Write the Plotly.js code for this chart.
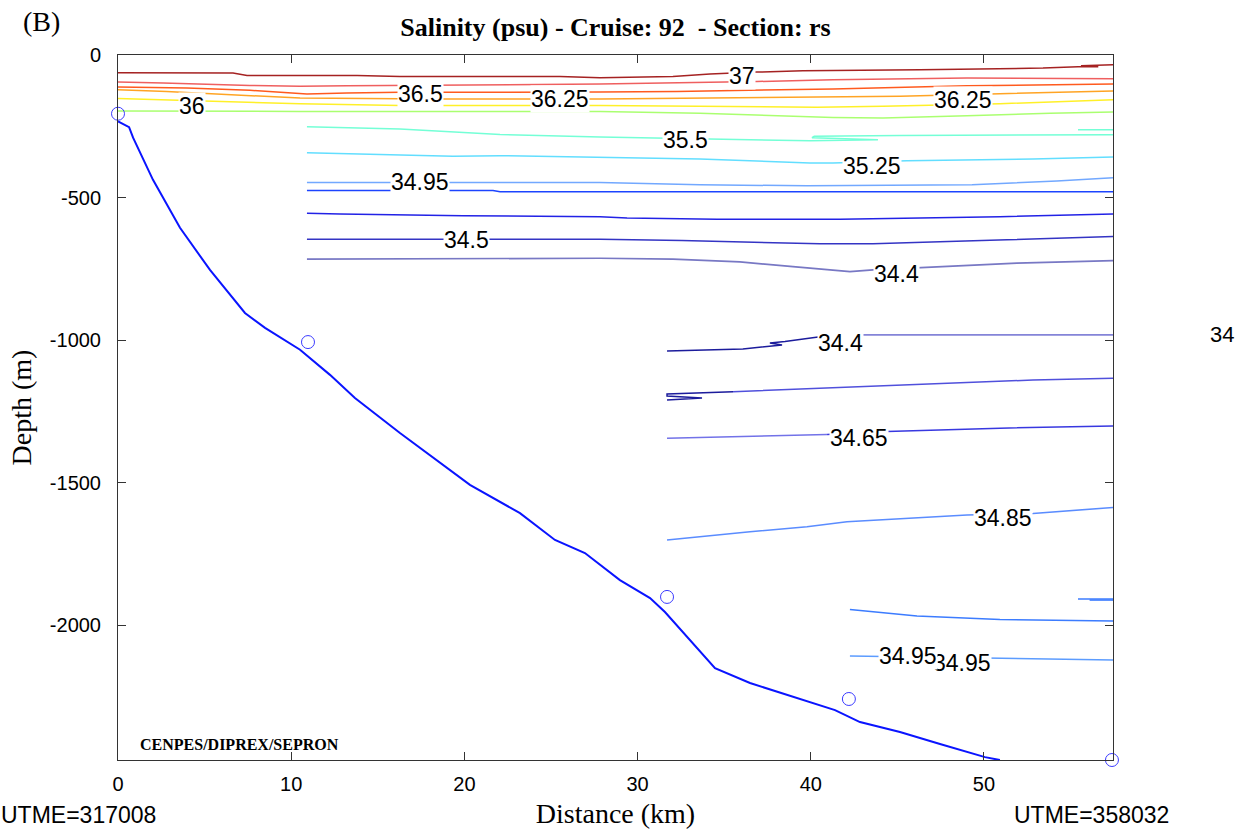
<!DOCTYPE html>
<html>
<head>
<meta charset="utf-8">
<script src="https://cdn.plot.ly/plotly-3.0.1.min.js"></script>
<style>html,body{margin:0;padding:0;background:#fff;}#chart{width:1255px;height:829px;}</style>
</head>
<body>
<div id="chart"></div>
<script>
// ---- Data (distance km, depth m) ----
const xTicks = [0, 10, 20, 30, 40, 50];
const yTicks = [-2000, -1500, -1000, -500, 0];
const yTickText = ['-2000', '-1500', '-1000', '-500', '0'];

const stationX = [0, 10.97, 31.7, 42.2, 57.39];
const stationY = [-206, -1007, -1901, -2259, -2473];

const bottomX = [0, 0.64, 0.87, 2.02, 3.58, 5.31, 7.33, 8.49, 10.51, 12.24, 13.68, 16.28, 20.32, 23.21, 25.23, 26.96, 28.98, 30.72, 31.58, 33.03, 34.47, 36.49, 39.38, 41.4, 42.84, 45.15, 47.46, 50.06, 50.92];
const bottomY = [-233, -253, -290, -438, -606, -754, -905, -957, -1034, -1122, -1203, -1326, -1508, -1607, -1701, -1747, -1842, -1905, -1954, -2052, -2151, -2203, -2259, -2298, -2340, -2375, -2417, -2463, -2473];

const c370X = [0, 6.64, 7.45, 13.8, 16.28, 25.52, 27.83, 32.04, 34.18, 35.33, 36.89, 39.55, 46.3, 53.41, 55.43, 56.6, 55.6, 57.45];
const c370Y = [-62, -63, -72, -72, -75, -75, -80, -75, -67, -63, -60, -55, -52, -46, -41, -41, -38, -34];
const c3675X = [0, 2.6, 7.62, 10.51, 13.22, 27.83, 36.89, 41.28, 49.02, 57.45];
const c3675Y = [-95, -98, -107, -110, -108, -102, -93, -87, -81, -83];
const c365X = [0, 3.98, 7.62, 10.91, 13.22, 16.28, 27.83, 32.27, 41.28, 49.02, 57.45];
const c365Y = [-112, -116, -124, -137, -133, -131, -130, -128, -119, -108, -102];
const c3625X = [0, 2.81, 10.51, 18.19, 27.83, 37.45, 45.15, 50.92, 57.45];
const c3625Y = [-122, -128, -151, -154, -154, -149, -145, -136, -126];
const c360X = [0, 3.58, 10.51, 16.28, 27.83, 40.36, 44.17, 50.92, 57.45];
const c360Y = [-153, -159, -171, -177, -177, -183, -180, -171, -157];
const c3575X = [0, 10.51, 27.83, 33.6, 41.28, 44.17, 49.02, 53.81, 57.45];
const c3575Y = [-196, -198, -198, -204, -219, -221, -213, -204, -200];
const c355X = [10.91, 13.8, 16.28, 19.17, 22.06, 27.83, 29.73, 35.51, 39.95, 43.88, 40.07, 40.2, 45.15, 57.45, null, 55.43, 57.45];
const c355Y = [-252, -255, -260, -269, -279, -288, -290, -297, -301, -297, -290, -285, -282, -280, null, -262, -262];
const c3525X = [10.91, 13.22, 14.95, 19.34, 22.06, 27.83, 33.6, 39.95, 41.28, 45.55, 52.83, 57.45];
const c3525Y = [-343, -346, -350, -355, -353, -359, -365, -379, -379, -371, -365, -358];
const c3495X = [10.91, 27.83, 33.6, 39.78, 49.31, 52.54, 54.21, 55.95, 57.45];
const c3495Y = [-447, -447, -455, -459, -455, -448, -442, -436, -431];
const cB1X = [10.91, 21.65, 22.06, 57.45];
const cB1Y = [-475, -475, -480, -480];
const cB2X = [10.91, 12.82, 19.92, 27.83, 29.39, 34.58, 41.69, 46.48, 50.92, 57.45];
const cB2Y = [-555, -558, -564, -567, -572, -576, -576, -572, -567, -558];
const c345X = [10.91, 27.83, 32.56, 40.53, 43.59, 48.04, 51.33, 57.45];
const c345Y = [-646, -646, -651, -662, -662, -653, -648, -637];
const c344X = [10.91, 27.83, 32.04, 35.91, 38.97, 42.26, 43.59, 46.3, 51.9, 57.45];
const c344Y = [-716, -713, -716, -726, -742, -760, -754, -746, -730, -721];

const d344aX = [31.7, 36.08, 38.34, 37.64, 38.51, 40.53];
const d344aY = [-1038, -1031, -1017, -1010, -1005, -988];
const d344bX = [40.53, 43.01, 57.45];
const d344bY = [-988, -982, -982];
const d2aX = [31.7, 33.72, 31.7, 31.7, 35.51];
const d2aY = [-1210, -1203, -1196, -1189, -1181];
const d2bX = [35.51, 40.36, 47.06, 52.83, 57.45];
const d2bY = [-1181, -1169, -1154, -1140, -1134];
const d3465aX = [31.7, 35.51, 40.94];
const d3465aY = [-1344, -1339, -1331];
const d3465bX = [40.94, 44.4, 50.92, 57.45];
const d3465bY = [-1331, -1321, -1309, -1301];
const d3485X = [31.7, 36.49, 39.78, 42.09, 49.02, 52.83, 57.45];
const d3485Y = [-1701, -1672, -1655, -1637, -1614, -1608, -1587];
const d349X = [42.26, 44.4, 46.13, 50.92, 57.45, null, 55.43, 57.45, null, 56.1, 57.45];
const d349Y = [-1945, -1959, -1968, -1980, -1985, null, -1908, -1908, null, -1912, -1912];
const d3495X = [42.26, 50.23, 55.37, 57.45];
const d3495Y = [-2108, -2115, -2122, -2122];

const labelText = ['37', '36.5', '36.25', '36.25', '36', '35.5', '35.25', '34.95', '34.5', '34.4', '34.4', '34.65', '34.85', '34.95', '34.95'];
const labelX = [36.03, 17.44, 25.52, 48.79, 4.26, 32.74, 43.52, 17.44, 20.13, 44.96, 41.69, 42.8, 51.08, 48.71, 45.63];
const labelY = [-73, -136, -155, -157, -178, -297, -391, -447, -648, -768, -1009, -1344, -1625, -2132, -2108];

// ---- Traces ----
function line(x, y, color, w) {
  return {x: x, y: y, type: 'scatter', mode: 'lines', line: {color: color, width: w || 1.5}, hoverinfo: 'skip', showlegend: false, connectgaps: false};
}
const traces = [
  line(c370X, c370Y, '#a52222'),
  line(c3675X, c3675Y, '#ef5f5f'),
  line(c365X, c365Y, '#ff5a1e'),
  line(c3625X, c3625Y, '#ffa424'),
  line(c360X, c360Y, '#fff028'),
  line(c3575X, c3575Y, '#aaff70'),
  line(c355X, c355Y, '#74ffd6'),
  line(c3525X, c3525Y, '#62deff'),
  line(c3495X, c3495Y, '#72a8ff'),
  line(cB1X, cB1Y, '#1c44ff'),
  line(cB2X, cB2Y, '#2222e6'),
  line(c345X, c345Y, '#3434c4'),
  line(c344X, c344Y, '#7878c4', 1.7),
  line(d344aX, d344aY, '#1c1c9c'),
  line(d344bX, d344bY, '#8484d8', 1.7),
  line(d2aX, d2aY, '#1c1c9c'),
  line(d2bX, d2bY, '#5050dc'),
  line(d3465aX, d3465aY, '#7272e8'),
  line(d3465bX, d3465bY, '#3838e0'),
  line(d3485X, d3485Y, '#5a8cff'),
  line(d349X, d349Y, '#3c7cff'),
  line(d3495X, d3495Y, '#5c9cff'),
  line(bottomX, bottomY, '#0a14ff', 2),
  {x: stationX, y: stationY, type: 'scatter', mode: 'markers', cliponaxis: false,
   marker: {symbol: 'circle-open', size: 13, color: '#3a3aff', line: {width: 1, color: '#3a3aff'}},
   hoverinfo: 'skip', showlegend: false}
];

const annotations = labelText.map((t, i) => ({
  x: labelX[i], y: labelY[i], xref: 'x', yref: 'y', text: t, showarrow: false,
  font: {family: 'Liberation Sans, Arial, sans-serif', size: 23, color: '#000'},
  bgcolor: '#ffffff', borderpad: 0, xanchor: 'center', yanchor: 'middle'
}));
annotations.push(
  {xref: 'paper', yref: 'paper', x: 1.1096, y: 0.604, text: '34', showarrow: false,
   font: {family: 'Liberation Sans, Arial, sans-serif', size: 22, color: '#000'}, xanchor: 'center', yanchor: 'middle'},
  {xref: 'paper', yref: 'paper', x: -0.0402, y: -0.078, text: 'UTME=317008', showarrow: false,
   font: {family: 'Liberation Sans, Arial, sans-serif', size: 23, color: '#000'}, xanchor: 'center', yanchor: 'middle'},
  {xref: 'paper', yref: 'paper', x: 0.978, y: -0.078, text: 'UTME=358032', showarrow: false,
   font: {family: 'Liberation Sans, Arial, sans-serif', size: 23, color: '#000'}, xanchor: 'center', yanchor: 'middle'},
  {xref: 'paper', yref: 'paper', x: -0.0764, y: 1.047, text: '(B)', showarrow: false,
   font: {family: 'Liberation Serif, Times New Roman, serif', size: 28, color: '#000'}, xanchor: 'center', yanchor: 'middle'},
  {xref: 'paper', yref: 'paper', x: 0.1226, y: 0.0213, text: '<b>CENPES/DIPREX/SEPRON</b>', showarrow: false,
   font: {family: 'Liberation Serif, Times New Roman, serif', size: 16, color: '#000'}, xanchor: 'center', yanchor: 'middle'}
);

const tickFont = {family: 'Liberation Sans, Arial, sans-serif', size: 20, color: '#000'};
const layout = {
  width: 1255, height: 829,
  margin: {l: 118, r: 142, t: 55, b: 69, pad: 0},
  paper_bgcolor: '#ffffff', plot_bgcolor: '#ffffff',
  title: {text: '<b>Salinity (psu) - Cruise: 92  - Section: rs</b>', x: 0.5, xanchor: 'center', xref: 'paper',
          y: 0.968, yanchor: 'middle', yref: 'container',
          font: {family: 'Liberation Serif, Times New Roman, serif', size: 26, color: '#000'}},
  xaxis: {range: [0, 57.45], tickvals: xTicks, ticktext: xTicks.map(String), ticks: 'inside', ticklen: 8,
          tickcolor: '#333', showline: true, linecolor: '#333', linewidth: 1, mirror: 'ticks',
          showgrid: false, zeroline: false, tickfont: tickFont, ticklabelstandoff: 6,
          title: {text: 'Distance (km)', standoff: 12, font: {family: 'Liberation Serif, Times New Roman, serif', size: 28, color: '#000'}}},
  yaxis: {range: [-2473, 0], tickvals: yTicks, ticktext: yTickText, ticks: 'inside', ticklen: 8,
          tickcolor: '#333', showline: true, linecolor: '#333', linewidth: 1, mirror: 'ticks',
          showgrid: false, zeroline: false, tickfont: tickFont, ticklabelstandoff: 12,
          title: {text: 'Depth (m)', standoff: 10, font: {family: 'Liberation Serif, Times New Roman, serif', size: 28, color: '#000'}}},
  annotations: annotations,
  showlegend: false
};

Plotly.newPlot('chart', traces, layout, {staticPlot: true, displayModeBar: false});
</script>
</body>
</html>
